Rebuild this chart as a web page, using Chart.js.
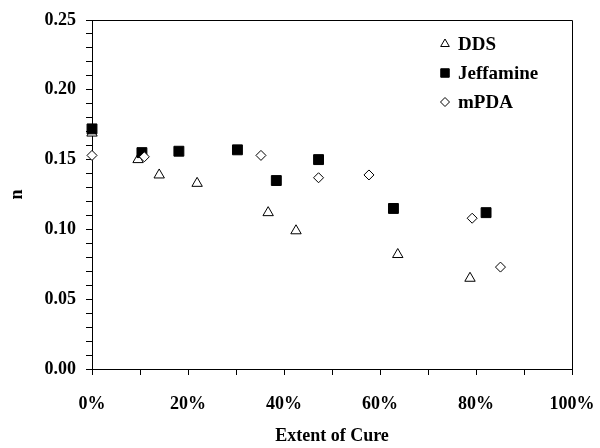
<!DOCTYPE html>
<html>
<head>
<meta charset="utf-8">
<script src="https://cdn.jsdelivr.net/npm/chart.js@4/dist/chart.umd.min.js"></script>
<style>
  html, body { margin: 0; padding: 0; background: #fff; }
  #wrap { width: 600px; height: 448px; position: relative; }
</style>
</head>
<body>
<div id="wrap"><canvas id="c" width="600" height="448"></canvas></div>
<script>
// ---- data ----
const seriesNames = ['DDS', 'Jeffamine', 'mPDA'];

const ddsCure = [0, 9.6, 14.0, 21.9, 36.7, 42.5, 63.7, 78.75];
const ddsN    = [0.169, 0.150, 0.139, 0.133, 0.112, 0.099, 0.082, 0.065];

const jeffCure = [0, 10.4, 18.1, 30.3, 38.4, 47.2, 62.8, 82.1];
const jeffN    = [0.172, 0.155, 0.156, 0.157, 0.135, 0.150, 0.115, 0.112];

const mpdaCure = [0, 10.9, 35.2, 47.2, 57.7, 79.2, 85.1];
const mpdaN    = [0.153, 0.152, 0.153, 0.137, 0.139, 0.108, 0.073];

const xTickLabels = ['0%', '20%', '40%', '60%', '80%', '100%'];
const yTickLabels = ['0.00', '0.05', '0.10', '0.15', '0.20', '0.25'];

const toPoints = (xs, ys) => xs.map((x, i) => ({ x: x, y: ys[i] }));

const FONT = '"Liberation Serif", "Times New Roman", serif';

const spacing = {
  id: 'spacing',
  beforeInit(chart) { try { chart.ctx.letterSpacing = '1px'; } catch (e) {} }
};

const frame = {
  id: 'frame',
  afterDraw(chart) {
    const a = chart.chartArea, ctx = chart.ctx;
    ctx.save();
    ctx.strokeStyle = '#000';
    ctx.lineWidth = 1;
    ctx.beginPath();
    ctx.moveTo(a.left, a.top + 0.5);
    ctx.lineTo(a.right + 0.5, a.top + 0.5);
    ctx.lineTo(a.right + 0.5, a.bottom);
    ctx.stroke();
    ctx.restore();
  }
};

function drawMarker(ctx, style, x, y, r, fill) {
  ctx.beginPath();
  if (style === 'triangle') {
    ctx.moveTo(x, y - r);
    ctx.lineTo(x + r * Math.sin(2 * Math.PI / 3), y - r * Math.cos(2 * Math.PI / 3));
    ctx.lineTo(x + r * Math.sin(4 * Math.PI / 3), y - r * Math.cos(4 * Math.PI / 3));
    ctx.closePath();
  } else if (style === 'rect') {
    const s = r * Math.SQRT1_2;
    ctx.rect(x - s, y - s, 2 * s, 2 * s);
  } else {
    ctx.moveTo(x, y - r); ctx.lineTo(x + r, y); ctx.lineTo(x, y + r); ctx.lineTo(x - r, y);
    ctx.closePath();
  }
  ctx.fillStyle = fill;
  ctx.fill();
  ctx.strokeStyle = '#000';
  ctx.lineWidth = 1;
  ctx.stroke();
}

const insideLegend = {
  id: 'insideLegend',
  afterDraw(chart) {
    const a = chart.chartArea, ctx = chart.ctx;
    const mx = a.right - 127, tx = a.right - 114;
    const rows = [a.top + 24, a.top + 53, a.top + 82];
    const sizes = [5, 6, 4.5];
    ctx.save();
    ctx.font = 'bold 19px ' + FONT;
    ctx.textBaseline = 'middle';
    ctx.textAlign = 'left';
    chart.data.datasets.forEach((ds, i) => {
      drawMarker(ctx, ds.pointStyle, mx, rows[i], sizes[i], ds.backgroundColor);
      ctx.fillStyle = '#000';
      ctx.fillText(ds.label, tx, rows[i] + 1);
    });
    ctx.restore();
  }
};

new Chart(document.getElementById('c'), {
  type: 'scatter',
  data: {
    datasets: [
      { label: seriesNames[0], data: toPoints(ddsCure, ddsN), pointStyle: 'triangle',
        backgroundColor: '#ffffff', borderColor: '#000000', borderWidth: 1,
        pointRadius: 6, clip: false, order: 2 },
      { label: seriesNames[1], data: toPoints(jeffCure, jeffN), pointStyle: 'rect',
        backgroundColor: '#000000', borderColor: '#000000', borderWidth: 1,
        pointRadius: 7, clip: false, order: 1 },
      { label: seriesNames[2], data: toPoints(mpdaCure, mpdaN), pointStyle: 'rectRot',
        backgroundColor: '#ffffff', borderColor: '#000000', borderWidth: 1,
        pointRadius: 5, clip: false, order: 0 }
    ]
  },
  options: {
    responsive: false,
    animation: false,
    devicePixelRatio: 1,
    layout: { padding: { top: 20, right: 28, left: 0, bottom: 0 } },
    plugins: { legend: { display: false }, tooltip: { enabled: false } },
    scales: {
      x: {
        type: 'linear', min: 0, max: 100,
        afterFit(s) { s.height = 79; s.paddingLeft = 0; s.paddingRight = 0; },
        grid: { display: true, drawOnChartArea: false, drawTicks: true, tickLength: 6, color: '#000', lineWidth: 1 },
        border: { display: true, color: '#000', width: 1 },
        ticks: {
          stepSize: 10, autoSkip: false, maxRotation: 0, maxTicksLimit: 20, padding: 19,
          color: '#000', font: { family: FONT, size: 18, weight: 'bold' },
          callback: (v) => (Math.round(v) % 20 === 0 ? xTickLabels[Math.round(v) / 20] : '')
        },
        title: { display: true, text: 'Extent of Cure', color: '#000',
          font: { family: FONT, size: 18, weight: 'bold' }, padding: { top: 0, bottom: 1 } }
      },
      y: {
        type: 'linear', min: 0, max: 0.25,
        afterFit(s) { s.width = 92; s.paddingTop = 0; s.paddingBottom = 0; },
        grid: { display: true, drawOnChartArea: false, drawTicks: true, tickLength: 6, color: '#000', lineWidth: 1 },
        border: { display: true, color: '#000', width: 1 },
        ticks: {
          stepSize: 0.01, autoSkip: false, maxTicksLimit: 40, padding: 10,
          color: '#000', font: { family: FONT, size: 18, weight: 'bold' },
          callback: (v) => {
            const k = Math.round(v * 100);
            return k % 5 === 0 ? yTickLabels[k / 5] : '';
          }
        },
        title: { display: true, text: 'n', color: '#000',
          font: { family: FONT, size: 18, weight: 'bold' }, padding: { top: 7, bottom: 0 } }
      }
    }
  },
  plugins: [spacing, frame, insideLegend]
});
</script>
</body>
</html>
